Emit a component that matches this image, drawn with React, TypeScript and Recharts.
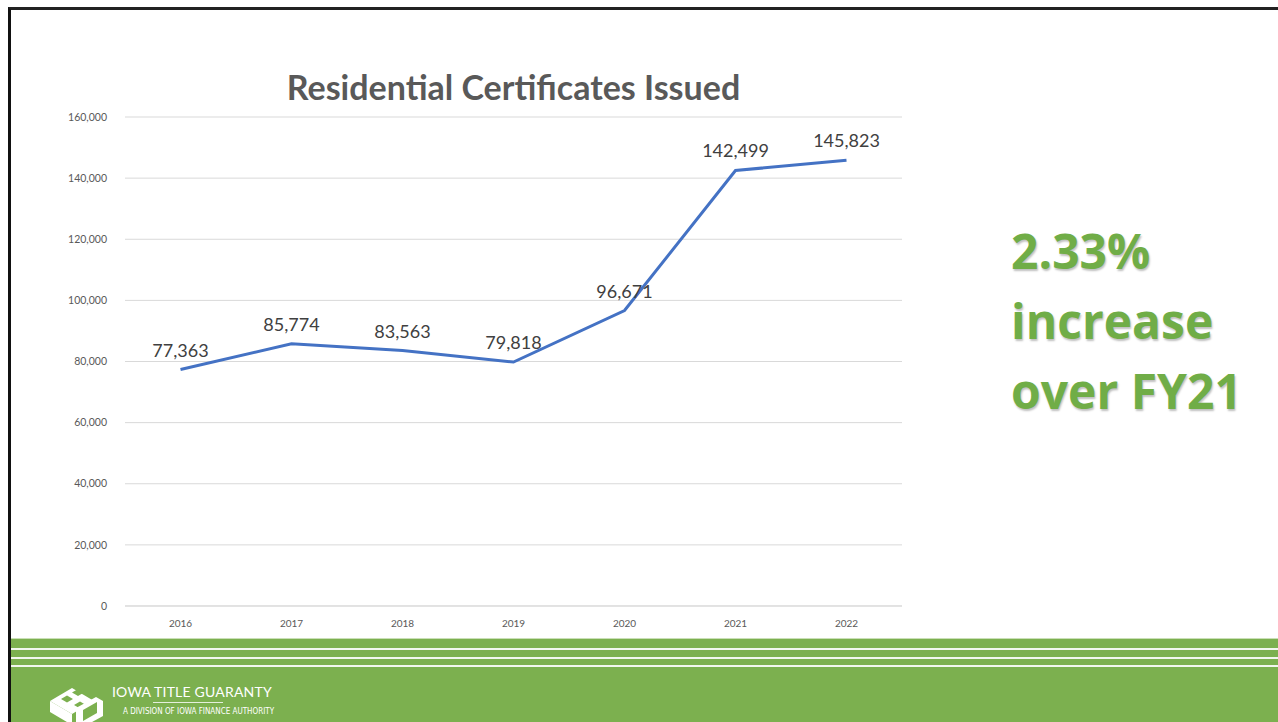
import React from "react";
import { LineChart, Line, XAxis, YAxis, CartesianGrid, LabelList } from "recharts";

// Residential certificates issued per fiscal year
const years = ["2016", "2017", "2018", "2019", "2020", "2021", "2022"];
const certificates = [77363, 85774, 83563, 79818, 96671, 142499, 145823];
const yTicks = [0, 20000, 40000, 60000, 80000, 100000, 120000, 140000, 160000];
const calloutLines = ["2.33%", "increase", "over FY21"];

const data = years.map((year, i) => ({ year, value: certificates[i] }));

const fmt = (v: number) => v.toLocaleString("en-US");

function Logo() {
  return (
    <div style={{ position: "absolute", left: 46, top: 677, width: 260, height: 45 }}>
      <svg width={62} height={46} style={{ position: "absolute", left: 0, top: 0 }}>
        {/* rough isometric cube mark */}
        <polygon points="4,24 26,11 48,24 26,37" fill="#fff" />
        <polygon points="15,22 21,18.5 27,22 21,25.5" fill="#7cb04f" />
        <polygon points="26,15.5 32,12 38,15.5 32,19" fill="#7cb04f" />
        <polygon points="28,28 34,24.5 40,28 34,31.5" fill="#7cb04f" />
        <polygon points="30,31 50,20 57,24 57,39 37,50 30,46" fill="#fff" />
        <polygon points="37,33 51,25 51,36 37,44" fill="#7cb04f" />
        <polygon points="4,24 26,37 26,48 4,35" fill="#fff" />
      </svg>
      <div
        style={{
          position: "absolute",
          left: 66,
          top: 6,
          color: "#fff",
          fontFamily: "Lato, 'Open Sans', sans-serif",
          fontSize: 14,
          letterSpacing: 0.2,
          whiteSpace: "nowrap",
        }}
      >
        IOWA TITLE GUARANTY
      </div>
      <div
        style={{
          position: "absolute",
          left: 107,
          top: 25,
          width: 70,
          height: 1,
          background: "rgba(255,255,255,0.8)",
        }}
      />
      <div
        style={{
          position: "absolute",
          left: 77,
          top: 30,
          color: "#fff",
          fontFamily: "'Liberation Sans Narrow', 'DejaVu Sans Condensed', sans-serif",
          fontSize: 8,
          whiteSpace: "nowrap",
        }}
      >
        A DIVISION OF IOWA FINANCE AUTHORITY
      </div>
    </div>
  );
}

export default function App() {
  return (
    <div
      style={{
        position: "fixed",
        left: 0,
        top: 0,
        width: 1278,
        height: 722,
        background: "#fff",
        overflow: "hidden",
        fontFamily: "Lato, sans-serif",
      }}
    >
      {/* slide frame */}
      <div
        style={{
          position: "absolute",
          left: 8,
          top: 7,
          width: 1300,
          height: 760,
          borderLeft: "3px solid #111",
          borderTop: "3px solid #222",
        }}
      />

      <div
        style={{
          position: "absolute",
          left: 125,
          width: 777,
          top: 66,
          textAlign: "center",
          fontSize: 34,
          fontWeight: 700,
          color: "#595959",
          whiteSpace: "nowrap",
        }}
      >
        Residential Certificates Issued
      </div>

      <div style={{ position: "absolute", left: 0, top: 0 }}>
        <LineChart
          width={950}
          height={640}
          data={data}
          margin={{ top: 117, right: 48, bottom: 10, left: 65 }}
        >
          <CartesianGrid vertical={false} stroke="#d9d9d9" />
          <XAxis
            dataKey="year"
            height={24}
            padding={{ left: 55.5, right: 55.5 }}
            axisLine={{ stroke: "#d9d9d9" }}
            tickLine={false}
            tick={{ fontSize: 10, fill: "#595959" }}
            tickMargin={8}
          />
          <YAxis
            width={60}
            domain={[0, 160000]}
            ticks={yTicks}
            tickFormatter={fmt}
            axisLine={false}
            tickLine={false}
            tick={{ fontSize: 10.5, fill: "#595959" }}
            tickMargin={12}
          />
          <Line
            type="linear"
            dataKey="value"
            stroke="#4472c4"
            strokeWidth={3}
            dot={false}
            isAnimationActive={false}
          >
            <LabelList
              dataKey="value"
              position="top"
              offset={13}
              formatter={(v: any) => fmt(Number(v))}
              style={{ fontSize: 18, fill: "#404040" }}
            />
          </Line>
        </LineChart>
      </div>

      {/* callout */}
      <div
        style={{
          position: "absolute",
          left: 1011,
          top: 216,
          fontFamily: "'Open Sans', sans-serif",
          fontWeight: 700,
          fontSize: 48,
          lineHeight: "70px",
          color: "#70ad47",
          textShadow: "1px 1.5px 2px rgba(0,0,0,0.25)",
          whiteSpace: "nowrap",
        }}
      >
        {calloutLines.map((t) => (
          <div key={t}>{t}</div>
        ))}
      </div>

      {/* footer band */}
      <div
        style={{
          position: "absolute",
          left: 11,
          top: 638,
          width: 1267,
          height: 84,
          background: "#7cb04f",
          borderTop: "1px solid #c9dfb6",
        }}
      >
        <div style={{ position: "absolute", left: 0, right: 0, top: 9, height: 2, background: "#f2f7ee" }} />
        <div style={{ position: "absolute", left: 0, right: 0, top: 18, height: 2, background: "#f2f7ee" }} />
        <div style={{ position: "absolute", left: 0, right: 0, top: 26, height: 2, background: "#f2f7ee" }} />
      </div>
      <Logo />
    </div>
  );
}
